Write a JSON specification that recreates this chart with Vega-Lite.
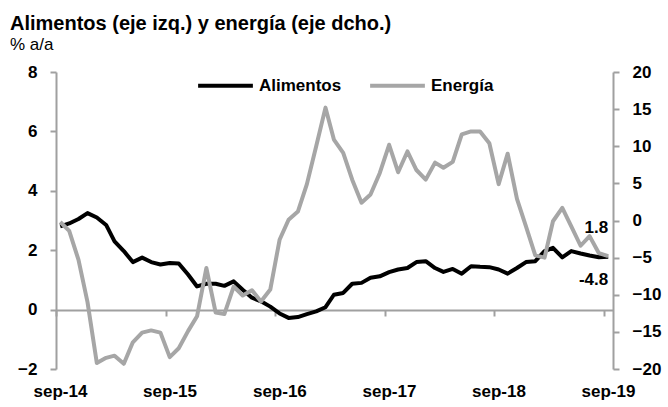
{
 "$schema": "https://vega.github.io/schema/vega-lite/v6.json",
 "width": 557, "height": 297,
 "autosize": {"type": "none"},
 "padding": {"left": 56, "top": 72, "right": 55, "bottom": 38},
 "background": "white",
 "config": {"font": "Liberation Sans", "view": {"stroke": null}, "axis": {"grid": false}},
 "title": {"text": "Alimentos (eje izq.) y energía (eje dcho.)", "subtitle": "% a/a", "anchor": "start", "frame": "group", "dx": -46, "fontSize": 20, "fontWeight": "bold", "color": "#000", "subtitleFontSize": 17, "subtitleColor": "#000", "subtitlePadding": 3, "offset": 3, "font": "Liberation Sans", "subtitleFont": "Liberation Sans"},
 "datasets": {
  "alim": [
   {"mes":"2014-09-15","valor":2.8},{"mes":"2014-10-15","valor":2.9},{"mes":"2014-11-15","valor":3.05},{"mes":"2014-12-15","valor":3.25},
   {"mes":"2015-01-15","valor":3.1},{"mes":"2015-02-15","valor":2.85},{"mes":"2015-03-15","valor":2.3},{"mes":"2015-04-15","valor":1.97},
   {"mes":"2015-05-15","valor":1.6},{"mes":"2015-06-15","valor":1.75},{"mes":"2015-07-15","valor":1.6},{"mes":"2015-08-15","valor":1.52},
   {"mes":"2015-09-15","valor":1.57},{"mes":"2015-10-15","valor":1.55},{"mes":"2015-11-15","valor":1.18},{"mes":"2015-12-15","valor":0.78},
   {"mes":"2016-01-15","valor":0.87},{"mes":"2016-02-15","valor":0.87},{"mes":"2016-03-15","valor":0.8},{"mes":"2016-04-15","valor":0.95},
   {"mes":"2016-05-15","valor":0.67},{"mes":"2016-06-15","valor":0.4},{"mes":"2016-07-15","valor":0.28},{"mes":"2016-08-15","valor":0.1},
   {"mes":"2016-09-15","valor":-0.13},{"mes":"2016-10-15","valor":-0.28},{"mes":"2016-11-15","valor":-0.25},{"mes":"2016-12-15","valor":-0.15},
   {"mes":"2017-01-15","valor":-0.06},{"mes":"2017-02-15","valor":0.08},{"mes":"2017-03-15","valor":0.5},{"mes":"2017-04-15","valor":0.56},
   {"mes":"2017-05-15","valor":0.87},{"mes":"2017-06-15","valor":0.9},{"mes":"2017-07-15","valor":1.07},{"mes":"2017-08-15","valor":1.12},
   {"mes":"2017-09-15","valor":1.26},{"mes":"2017-10-15","valor":1.35},{"mes":"2017-11-15","valor":1.4},{"mes":"2017-12-15","valor":1.6},
   {"mes":"2018-01-15","valor":1.63},{"mes":"2018-02-15","valor":1.4},{"mes":"2018-03-15","valor":1.27},{"mes":"2018-04-15","valor":1.37},
   {"mes":"2018-05-15","valor":1.21},{"mes":"2018-06-15","valor":1.46},{"mes":"2018-07-15","valor":1.44},{"mes":"2018-08-15","valor":1.43},
   {"mes":"2018-09-15","valor":1.35},{"mes":"2018-10-15","valor":1.21},{"mes":"2018-11-15","valor":1.4},{"mes":"2018-12-15","valor":1.6},
   {"mes":"2019-01-15","valor":1.63},{"mes":"2019-02-15","valor":1.97},{"mes":"2019-03-15","valor":2.08},{"mes":"2019-04-15","valor":1.76},
   {"mes":"2019-05-15","valor":1.97},{"mes":"2019-06-15","valor":1.89},{"mes":"2019-07-15","valor":1.82},{"mes":"2019-08-15","valor":1.76},
   {"mes":"2019-09-15","valor":1.78}
  ],
  "ener": [
   {"mes":"2014-09-15","valor":-0.2},{"mes":"2014-10-15","valor":-1.4},{"mes":"2014-11-15","valor":-5.3},{"mes":"2014-12-15","valor":-11},
   {"mes":"2015-01-15","valor":-19.2},{"mes":"2015-02-15","valor":-18.5},{"mes":"2015-03-15","valor":-18.2},{"mes":"2015-04-15","valor":-19.3},
   {"mes":"2015-05-15","valor":-16.4},{"mes":"2015-06-15","valor":-15.1},{"mes":"2015-07-15","valor":-14.8},{"mes":"2015-08-15","valor":-15.1},
   {"mes":"2015-09-15","valor":-18.4},{"mes":"2015-10-15","valor":-17.2},{"mes":"2015-11-15","valor":-14.9},{"mes":"2015-12-15","valor":-12.9},
   {"mes":"2016-01-15","valor":-6.4},{"mes":"2016-02-15","valor":-12.4},{"mes":"2016-03-15","valor":-12.6},{"mes":"2016-04-15","valor":-8.9},
   {"mes":"2016-05-15","valor":-10.1},{"mes":"2016-06-15","valor":-9.4},{"mes":"2016-07-15","valor":-10.9},{"mes":"2016-08-15","valor":-9.3},
   {"mes":"2016-09-15","valor":-2.6},{"mes":"2016-10-15","valor":0.1},{"mes":"2016-11-15","valor":1.2},{"mes":"2016-12-15","valor":4.9},
   {"mes":"2017-01-15","valor":10.0},{"mes":"2017-02-15","valor":15.2},{"mes":"2017-03-15","valor":10.9},{"mes":"2017-04-15","valor":9.1},
   {"mes":"2017-05-15","valor":5.5},{"mes":"2017-06-15","valor":2.4},{"mes":"2017-07-15","valor":3.5},{"mes":"2017-08-15","valor":6.4},
   {"mes":"2017-09-15","valor":10.2},{"mes":"2017-10-15","valor":6.5},{"mes":"2017-11-15","valor":9.3},{"mes":"2017-12-15","valor":6.8},
   {"mes":"2018-01-15","valor":5.5},{"mes":"2018-02-15","valor":7.8},{"mes":"2018-03-15","valor":7.1},{"mes":"2018-04-15","valor":7.9},
   {"mes":"2018-05-15","valor":11.6},{"mes":"2018-06-15","valor":12.0},{"mes":"2018-07-15","valor":12.0},{"mes":"2018-08-15","valor":10.4},
   {"mes":"2018-09-15","valor":4.9},{"mes":"2018-10-15","valor":9.0},{"mes":"2018-11-15","valor":2.9},{"mes":"2018-12-15","valor":-0.8},
   {"mes":"2019-01-15","valor":-4.7},{"mes":"2019-02-15","valor":-5.0},{"mes":"2019-03-15","valor":-0.1},{"mes":"2019-04-15","valor":1.7},
   {"mes":"2019-05-15","valor":-0.8},{"mes":"2019-06-15","valor":-3.4},{"mes":"2019-07-15","valor":-2.1},{"mes":"2019-08-15","valor":-4.4},
   {"mes":"2019-09-15","valor":-4.8}
  ]
 },
 "encoding": {
  "x": {"field": "mes", "type": "temporal",
   "scale": {"type": "utc", "domain": [{"year":2014,"month":9,"date":1,"utc":true},{"year":2019,"month":10,"date":1,"utc":true}]},
   "axis": {"title": null, "values": [{"year":2014,"month":9,"date":1,"utc":true},{"year":2015,"month":9,"date":1,"utc":true},{"year":2016,"month":9,"date":1,"utc":true},{"year":2017,"month":9,"date":1,"utc":true},{"year":2018,"month":9,"date":1,"utc":true},{"year":2019,"month":9,"date":1,"utc":true}],
    "labelExpr": "'sep-' + utcFormat(datum.value, '%y')",
    "offset": -59, "domainColor": "#a0a0a0", "domainWidth": 2, "tickColor": "#a0a0a0", "tickWidth": 2, "tickSize": 6,
    "labelPadding": 67, "labelFontSize": 17, "labelFontWeight": "bold", "labelColor": "#000", "labelOffset": 4,
    "labelOverlap": false, "labelFlush": false, "labelBound": false}
  }
 },
 "layer": [
  {
   "encoding": {"y": {"field": "valor", "type": "quantitative",
     "scale": {"domain": [-2, 8], "nice": false, "zero": false},
     "axis": {"orient": "left", "title": null, "values": [-2,0,2,4,6,8], "domainColor": "#a0a0a0", "domainWidth": 2, "tickColor": "#a0a0a0", "tickWidth": 2, "tickSize": 6, "labelPadding": 13, "labelFontSize": 17, "labelFontWeight": "bold", "labelColor": "#000"}}},
   "layer": [
    {"data": {"name": "alim"}, "transform": [{"calculate": "'Alimentos'", "as": "serie"}],
     "mark": {"type": "line", "strokeWidth": 4, "strokeJoin": "round"},
     "encoding": {"color": {"field": "serie", "type": "nominal",
       "scale": {"domain": ["Alimentos", "Energía"], "range": ["#000000", "#a6a6a6"]},
       "legend": {"orient": "none", "legendX": 140, "legendY": -16, "direction": "horizontal", "title": null, "symbolType": "stroke", "symbolSize": 3000, "symbolStrokeWidth": 4, "labelFontSize": 17, "labelFontWeight": "bold", "labelColor": "#000", "columnPadding": 20, "labelOffset": 4}}}},
    {"data": {"values": [{"mes": "2019-09-15", "valor": 1.78, "etiqueta": "1.8"}]},
     "mark": {"type": "text", "align": "right", "baseline": "middle", "dy": -29, "fontSize": 17, "fontWeight": "bold", "color": "#000"},
     "encoding": {"text": {"field": "etiqueta"}}}
   ]
  },
  {
   "encoding": {"y": {"field": "valor", "type": "quantitative",
     "scale": {"domain": [-20, 20], "nice": false, "zero": false},
     "axis": {"orient": "right", "title": null, "values": [-20,-15,-10,-5,0,5,10,15,20], "domainColor": "#a0a0a0", "domainWidth": 2, "tickColor": "#a0a0a0", "tickWidth": 2, "tickSize": 6, "labelPadding": 13, "labelFontSize": 17, "labelFontWeight": "bold", "labelColor": "#000"}}},
   "layer": [
    {"data": {"name": "ener"}, "transform": [{"calculate": "'Energía'", "as": "serie"}],
     "mark": {"type": "line", "strokeWidth": 4, "strokeJoin": "round"},
     "encoding": {"color": {"field": "serie", "type": "nominal",
       "scale": {"domain": ["Alimentos", "Energía"], "range": ["#000000", "#a6a6a6"]},
       "legend": {"orient": "none", "legendX": 140, "legendY": -16, "direction": "horizontal", "title": null, "symbolType": "stroke", "symbolSize": 3000, "symbolStrokeWidth": 4, "labelFontSize": 17, "labelFontWeight": "bold", "labelColor": "#000", "columnPadding": 20, "labelOffset": 4}}}},
    {"data": {"values": [{"mes": "2019-09-15", "valor": -4.8, "etiqueta": "-4.8"}]},
     "mark": {"type": "text", "align": "right", "baseline": "middle", "dy": 24, "fontSize": 17, "fontWeight": "bold", "color": "#000"},
     "encoding": {"text": {"field": "etiqueta"}}}
   ]
  }
 ],
 "resolve": {"scale": {"y": "independent"}}
}
